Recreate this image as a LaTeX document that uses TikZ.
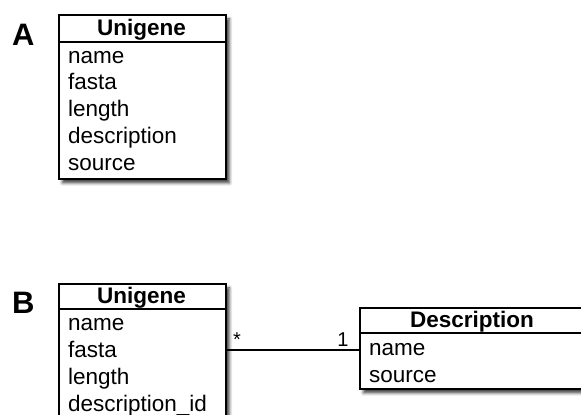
\documentclass[tikz,border=0pt]{standalone}
\usepackage{fontspec}
\setmainfont{Liberation Sans}
\usetikzlibrary{shadows.blur}
\tikzset{
  classbox/.style={draw=black, line width=1.9pt, fill=white, anchor=north west,
    inner sep=0pt, blur shadow={shadow xshift=3.5pt, shadow yshift=-4pt,
    shadow blur radius=3pt, shadow opacity=75}},
  rule/.style={line width=1.7pt},
  connector/.style={line width=1.4pt},
  headtext/.style={font=\fontsize{22.5}{27}\selectfont\bfseries, anchor=base, inner sep=0pt},
  rowtext/.style={font=\fontsize{22.5}{27}\selectfont, anchor=base west, inner sep=0pt},
  panel/.style={font=\fontsize{31}{36}\selectfont\bfseries, anchor=base west, inner sep=0pt},
  mult/.style={font=\fontsize{20}{22}\selectfont, anchor=base, inner sep=0pt},
}
\begin{document}
\begin{tikzpicture}[x=1pt, y=-1pt]
\useasboundingbox (0,0) rectangle (581,415);

% ---- Panel A: single Unigene class ----
\node[panel] (labelA) at (12,45) {A};
\node[classbox, minimum width=167pt, minimum height=164pt] (unigeneA) at (58,14) {};
\draw[rule] ([yshift=-28pt]unigeneA.north west) -- ([yshift=-28pt]unigeneA.north east);
\node[headtext] (unigeneAhead) at (141.5,35) {Unigene};
\node[rowtext] (aname) at (68,63) {name};
\node[rowtext] (afasta) at (68,89.8) {fasta};
\node[rowtext] (alength) at (68,116.6) {length};
\node[rowtext] (adesc) at (68,143.4) {description};
\node[rowtext] (asource) at (68,170.2) {source};

% ---- Panel B: Unigene linked to Description ----
\node[panel] (labelB) at (12,313) {B};
\node[classbox, minimum width=167pt, minimum height=160pt] (unigeneB) at (58,283) {};
\draw[rule] ([yshift=-26pt]unigeneB.north west) -- ([yshift=-26pt]unigeneB.north east);
\node[headtext] (unigeneBhead) at (141.5,303) {Unigene};
\node[rowtext] (bname) at (68,330) {name};
\node[rowtext] (bfasta) at (68,357) {fasta};
\node[rowtext] (blength) at (68,384) {length};
\node[rowtext] (bdescid) at (68,411) {description\_id};

\node[classbox, minimum width=226pt, minimum height=81pt] (description) at (359,307) {};
\draw[rule] ([yshift=-26pt]description.north west) -- ([yshift=-26pt]description.north east);
\node[headtext] (descriptionhead) at (472,327) {Description};
\node[rowtext] (dname) at (369,355) {name};
\node[rowtext] (dsource) at (369,382) {source};

% association with multiplicities
\draw[connector] ([yshift=-67pt]unigeneB.north east) -- ([yshift=-43pt]description.north west);
\node[mult] (manyend) at (237,346) {*};
\node[mult] (oneend) at (343,346) {1};
\end{tikzpicture}
\end{document}
